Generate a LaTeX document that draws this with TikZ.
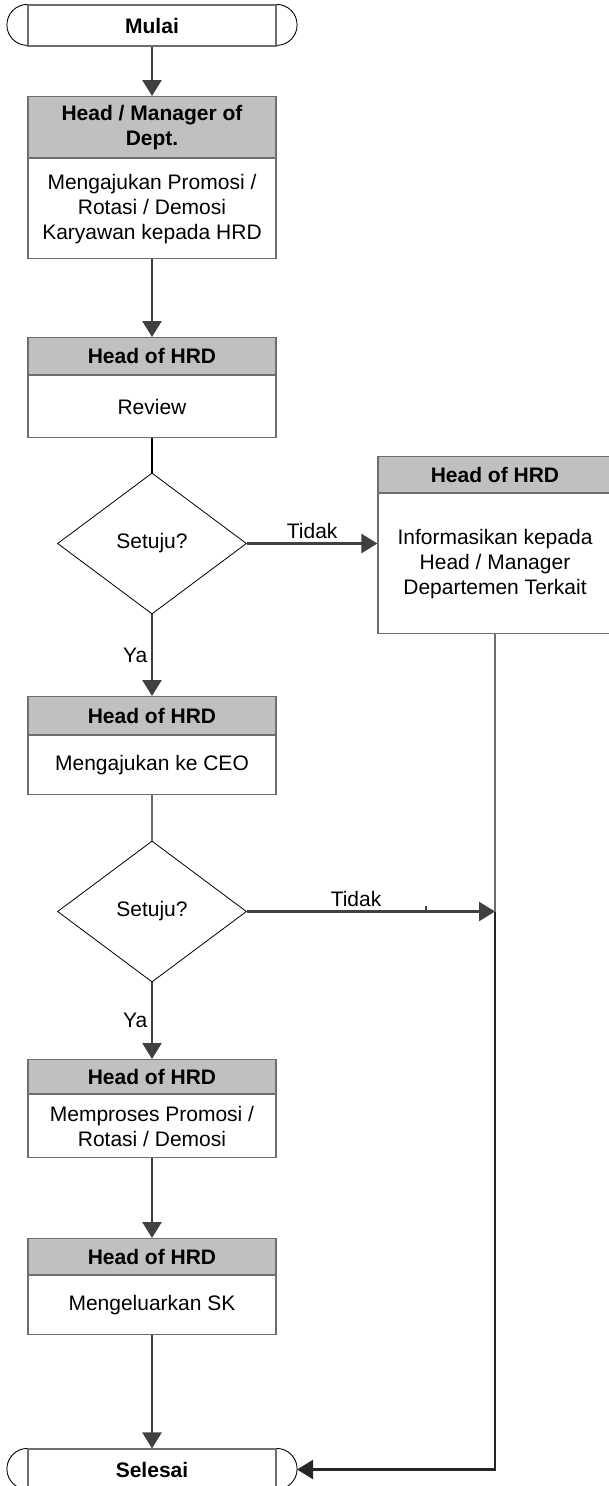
\documentclass[tikz,border=0pt]{standalone}
\usepackage{fontspec}
\setmainfont{Liberation Sans}
\usetikzlibrary{positioning,shapes.geometric,arrows.meta}

\definecolor{headgray}{RGB}{192,192,192}
\definecolor{framegray}{RGB}{110,110,110}
\definecolor{flowgray}{RGB}{64,64,64}
\newcommand{\boxfont}{\fontsize{21pt}{25pt}\selectfont}

\tikzset{
  head/.style={draw=framegray, line width=1.2pt, fill=headgray, minimum width=248pt, anchor=north, align=center, inner sep=1pt, font=\boxfont\bfseries},
  body/.style={draw=framegray, line width=1.2pt, fill=white, minimum width=248pt, align=center, inner sep=1pt},
  decision/.style={diamond, draw=black, line width=0.8pt, inner sep=0pt, minimum width=189pt, minimum height=141pt},
  terminal/.style={draw=framegray, line width=1.2pt, minimum width=248pt, minimum height=41pt, inner sep=0pt, font=\boxfont\bfseries},
  flow/.style={draw=flowgray, line width=2.6pt, -{Triangle[length=16pt,width=19pt]}},
  capline/.style={draw=black, line width=0.9pt},
}

\begin{document}
\begin{tikzpicture}[x=1pt, y=1pt, font=\boxfont]
%			\draw[help lines] (0,0) grid (609,-1486);
			\path[use as bounding box, clip] (0,0) rectangle (609,-1486);
			\node[terminal] (mulai) at (152,-25.5) {Mulai};
			\draw[capline] (mulai.north west) arc[start angle=90, end angle=270, radius=20.5];
			\draw[capline] (mulai.north east) arc[start angle=90, end angle=-90, radius=20.5];
			\node[head, minimum height=61pt] (dept_head) at (152,-96) {Head / Manager of\\Dept.};
			\node[body, minimum height=100pt, below=0pt of dept_head] (dept_body) {Mengajukan Promosi /\\Rotasi / Demosi\\Karyawan kepada HRD};
			\node[head, minimum height=37pt] (review_head) at (152,-337) {Head of HRD};
			\node[body, minimum height=62pt, below=0pt of review_head] (review_body) {Review};
			\node[decision] (check1) at (152,-543.5) {Setuju?};
			\node[head, minimum width=234pt, minimum height=36pt] (inform_head) at (495,-456) {Head of HRD};
			\node[body, minimum width=234pt, minimum height=140pt, below=0pt of inform_head] (inform_body) {Informasikan kepada\\Head / Manager\\Departemen Terkait};
			\node[head, minimum height=38pt] (ceo_head) at (152,-696) {Head of HRD};
			\node[body, minimum height=59pt, below=0pt of ceo_head] (ceo_body) {Mengajukan ke CEO};
			\node[decision] (check2) at (152,-911.5) {Setuju?};
			\node[head, minimum height=34pt] (proses_head) at (152,-1059) {Head of HRD};
			\node[body, minimum height=63pt, below=0pt of proses_head] (proses_body) {Memproses Promosi /\\Rotasi / Demosi};
			\node[head, minimum height=36pt] (sk_head) at (152,-1238) {Head of HRD};
			\node[body, minimum height=59pt, below=0pt of sk_head] (sk_body) {Mengeluarkan SK};
			\node[terminal] (selesai) at (152,-1469.5) {Selesai};
			\draw[capline] (selesai.north west) arc[start angle=90, end angle=270, radius=20.5];
			\draw[capline] (selesai.north east) arc[start angle=90, end angle=-90, radius=20.5];
			\coordinate (selesai_cap) at ([xshift=20.5pt]selesai.east);
			\coordinate (join) at (inform_body.south |- check2.east);
			\draw[flow] (mulai) -- (dept_head);
			\draw[flow] (dept_body) -- (review_head);
			\draw[black, line width=2pt] (review_body) -- (check1);
			\draw[flow] (check1.east) -- node[above]{Tidak} (check1.east -| inform_body.west);
			\draw[flow] (check1) -- node[left]{Ya} (ceo_head);
			\draw[framegray, line width=1.5pt] (ceo_body) -- (check2);
			\draw[flow] (check2.east) -- node[above, pos=0.44]{Tidak} (join);
			\draw[flowgray, line width=1.2pt] (426,-912) -- (426,-906);
			\draw[flow] (check2) -- node[left]{Ya} (proses_head);
			\draw[flow] (proses_body) -- (sk_head);
			\draw[flow] (sk_body) -- (selesai);
			\draw[framegray, line width=1.5pt] (inform_body.south) -- (join);
			\draw[flow, draw=black!85] (join) |- (selesai_cap);
		\end{tikzpicture}
\end{document}
